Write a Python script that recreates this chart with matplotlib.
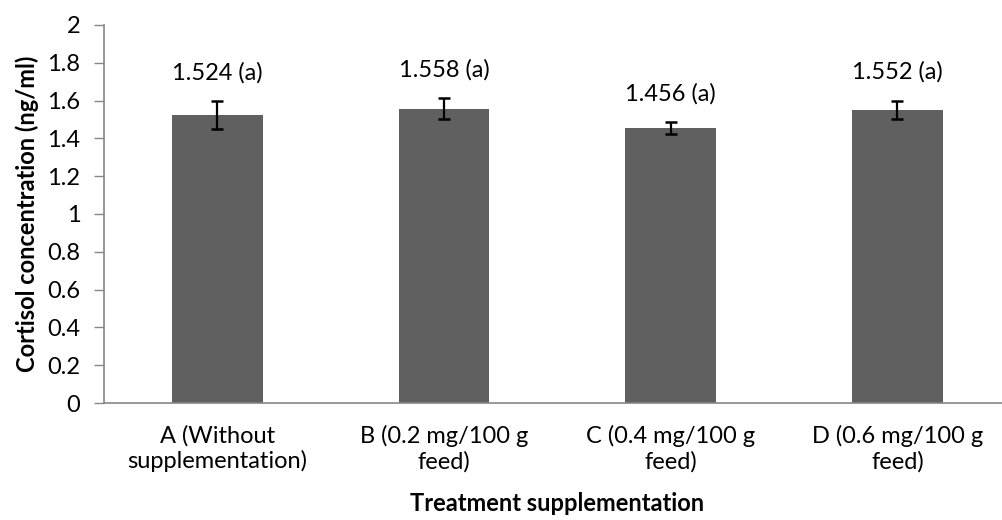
import matplotlib.pyplot as plt
import numpy as np

plt.rcParams["font.family"] = ["Lato", "DejaVu Sans"]

categories = ["A (Without\nsupplementation)", "B (0.2 mg/100 g\nfeed)",
              "C (0.4 mg/100 g\nfeed)", "D (0.6 mg/100 g\nfeed)"]
cortisol = [1.524, 1.558, 1.456, 1.552]
errors = [0.072, 0.053, 0.032, 0.048]
labels = ["1.524 (a)", "1.558 (a)", "1.456 (a)", "1.552 (a)"]
yticklabels = ["0", "0.2", "0.4", "0.6", "0.8", "1", "1.2", "1.4", "1.6", "1.8", "2"]

fig = plt.figure(figsize=(10.02, 5.2), dpi=100)
ax = fig.add_axes([0.1038, 0.225, 0.905, 0.727])

x = np.arange(len(categories))
ax.bar(x, cortisol, width=0.4, color="#606060", zorder=2)
ax.errorbar(x, cortisol, yerr=errors, fmt="none", ecolor="black",
            elinewidth=1.6, capsize=4.5, capthick=1.8, zorder=3)

for xi, v, e, lab in zip(x, cortisol, errors, labels):
    ax.text(xi, v + e + 0.15, lab, ha="center", va="center", fontsize=17)

ax.set_xlim(-0.5, 3.5)
ax.set_ylim(0, 2)
ax.set_yticks(np.arange(0, 2.01, 0.2))
ax.set_yticklabels(yticklabels)
ax.set_xticks(x)
ax.set_xticklabels(categories, fontsize=17, linespacing=1.2)
ax.tick_params(axis="x", length=0, pad=16)
ax.tick_params(axis="y", labelsize=17, length=7, width=1, color="#868686", pad=10)

for s in ["top", "right"]:
    ax.spines[s].set_visible(False)
for s in ["left", "bottom"]:
    ax.spines[s].set_color("#868686")
    ax.spines[s].set_linewidth(1.2)

ax.set_xlabel("Treatment supplementation", fontsize=17, fontweight="bold", labelpad=14)
ax.set_ylabel("Cortisol concentration (ng/ml)", fontsize=17, fontweight="bold", labelpad=6)

fig.savefig("out.png", dpi=100)
